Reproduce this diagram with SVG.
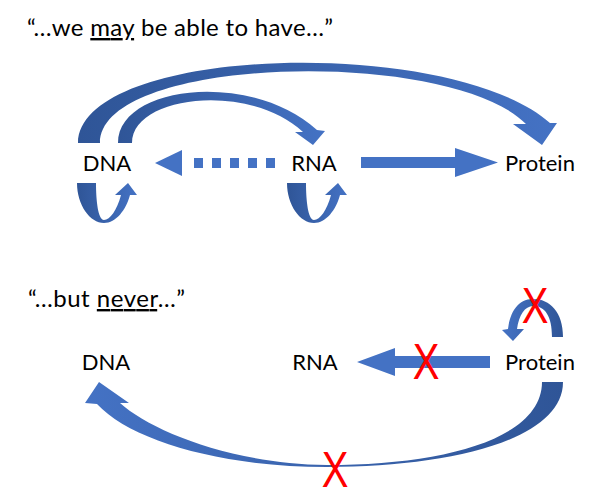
<svg xmlns="http://www.w3.org/2000/svg" width="596" height="502" viewBox="0 0 596 502">
<style>
.t{font-family:Lato,"Liberation Sans",Arial,sans-serif;font-size:24px;fill:#000}
.lbl{font-family:Lato,"Liberation Sans",Arial,sans-serif;font-size:22px;fill:#000;text-anchor:middle}
.x{font-family:"Liberation Sans",Arial,sans-serif;font-size:50px;fill:#FF0000;text-anchor:middle}
.flat{fill:#4472C4}
</style>
<defs>
<linearGradient id="gL" x1="0" y1="0" x2="1" y2="0">
<stop offset="0" stop-color="#2F5597"/><stop offset="1" stop-color="#4472C4"/>
</linearGradient>
<linearGradient id="gR" x1="1" y1="0" x2="0" y2="0">
<stop offset="0" stop-color="#2F5597"/><stop offset="1" stop-color="#4472C4"/>
</linearGradient>
<path id="uloop" d="M77,183 C77,205 90,223 104,223 C116,223 126,210 130,195 L137,195 L128,183 L115,195 L121,195 C117,210 110,220 104,220 C98,220 96,200 96,183 Z"/>
</defs>
<rect width="596" height="502" fill="#fff"/>
<g id="titles">
<text class="t" x="27" y="36" textLength="306">“…we <tspan style="text-decoration:underline">may</tspan> be able to have…”</text>
<text class="t" x="28" y="307" textLength="157">“…but <tspan style="text-decoration:underline">never</tspan>…”</text>
</g>
<g id="connectors">
<path fill="url(#gL)" d="M78,143 C80,45 450,35 550,123 L557,123 L542,145 L513,124 L526,124 C450,47 100,55 100,143 Z"/>
<path fill="url(#gL)" d="M118,143 C118,85 250,70 317,130 L325,131 L313,145 L295,132 L303,132 C250,82 132,95 132,143 Z"/>
<polygon class="flat" points="155,163 182,150 182,176"/>
<line x1="194" y1="163" x2="276" y2="163" stroke="#4472C4" stroke-width="10" stroke-dasharray="9 9"/>
<path class="flat" d="M361,157 L455,157 L455,148 L498,162.5 L455,177 L455,168 L361,168 Z"/>
<use href="#uloop" fill="url(#gL)"/>
<use href="#uloop" fill="url(#gL)" transform="translate(210,0)"/>
<path fill="url(#gR)" d="M563,337 C563,312 550,299 533,299 C518,299 510,312 508,329 L502,330 L513,341 L524,329 L517,329 C519,315 525,306 533,306 C545,306 552,316 552,337 Z"/>
<path class="flat" d="M490,356 L395,356 L395,348 L357,362 L395,376 L395,368 L490,368 Z"/>
<path fill="url(#gR)" d="M563,382 C563,440 450,467 327,467 C220,467 130,440 97,404 L85,403 L99,382 L129,403 L120,403 C150,430 230,464 327,465 C440,465 542,440 542,382 Z"/>
</g>
<g id="node-dna-top"><text class="lbl" x="107" y="171">DNA</text></g>
<g id="node-rna-top"><text class="lbl" x="314" y="171">RNA</text></g>
<g id="node-protein-top"><text class="lbl" x="540" y="171">Protein</text></g>
<g id="node-dna-bottom"><text class="lbl" x="106" y="370">DNA</text></g>
<g id="node-rna-bottom"><text class="lbl" x="315" y="370">RNA</text></g>
<g id="node-protein-bottom"><text class="lbl" x="540" y="370">Protein</text></g>
<g id="crosses">
<text class="x" transform="translate(535,323) scale(0.8,1)">X</text>
<text class="x" transform="translate(426,379) scale(0.8,1)">X</text>
<text class="x" transform="translate(335,487) scale(0.8,1)">X</text>
</g>
</svg>
